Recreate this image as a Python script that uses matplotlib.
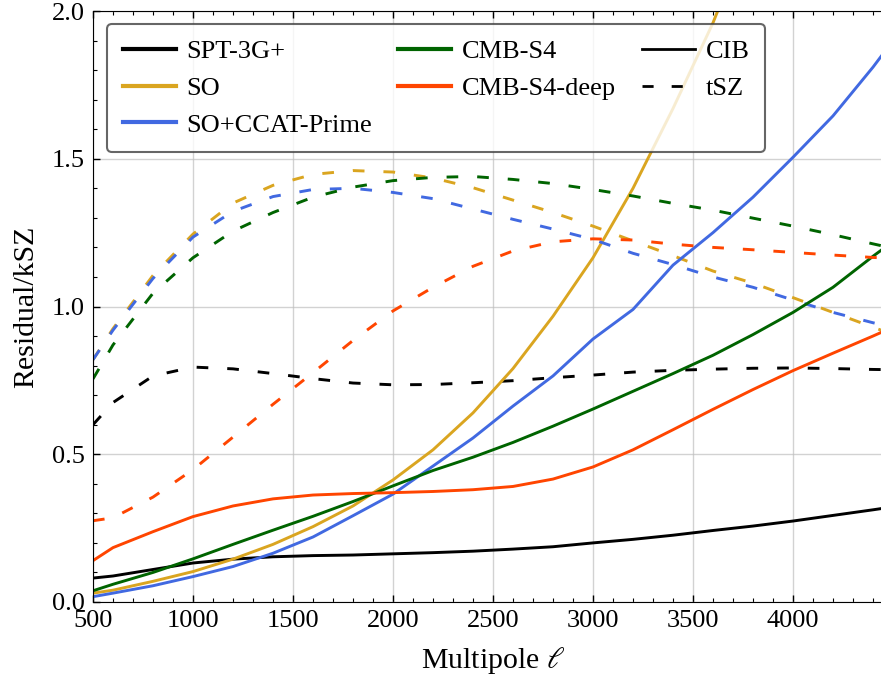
import matplotlib
matplotlib.use("Agg")
import matplotlib.pyplot as plt
from matplotlib.lines import Line2D
from matplotlib.ticker import MultipleLocator

# multipole grid
ell = [500, 600, 800, 1000, 1200, 1400, 1600, 1800, 2000, 2200, 2400,
       2600, 2800, 3000, 3200, 3400, 3600, 3800, 4000, 4200, 4400, 4500]

# CIB residual / kSZ
cib_spt = [0.081, 0.088, 0.110, 0.132, 0.145, 0.153, 0.157, 0.159, 0.163, 0.167, 0.172,
           0.179, 0.187, 0.200, 0.212, 0.226, 0.242, 0.257, 0.274, 0.293, 0.312, 0.322]
cib_so = [0.030, 0.040, 0.070, 0.103, 0.145, 0.195, 0.255, 0.325, 0.413, 0.515, 0.640,
          0.790, 0.967, 1.165, 1.400, 1.670, 1.960, 2.300, 2.700, 3.100, 3.500, 3.700]
cib_ccat = [0.018, 0.030, 0.055, 0.086, 0.120, 0.165, 0.220, 0.292, 0.365, 0.460, 0.555,
            0.663, 0.765, 0.890, 0.990, 1.140, 1.250, 1.370, 1.505, 1.645, 1.810, 1.900]
cib_s4 = [0.038, 0.060, 0.100, 0.146, 0.195, 0.243, 0.290, 0.340, 0.393, 0.445, 0.490,
          0.540, 0.595, 0.653, 0.713, 0.773, 0.835, 0.905, 0.980, 1.065, 1.170, 1.220]
cib_s4deep = [0.140, 0.184, 0.238, 0.289, 0.325, 0.349, 0.362, 0.367, 0.370, 0.374, 0.380,
              0.391, 0.416, 0.457, 0.515, 0.583, 0.652, 0.719, 0.783, 0.842, 0.900, 0.930]

# tSZ residual / kSZ
tsz_spt = [0.600, 0.675, 0.765, 0.795, 0.789, 0.773, 0.756, 0.741, 0.735, 0.736, 0.742,
           0.749, 0.759, 0.768, 0.778, 0.784, 0.788, 0.791, 0.792, 0.790, 0.787, 0.786]
tsz_so = [0.820, 0.925, 1.105, 1.245, 1.350, 1.410, 1.447, 1.460, 1.455, 1.435, 1.402,
          1.360, 1.318, 1.272, 1.222, 1.172, 1.120, 1.079, 1.030, 0.980, 0.930, 0.905]
tsz_ccat = [0.820, 0.920, 1.095, 1.235, 1.322, 1.372, 1.396, 1.400, 1.386, 1.365, 1.330,
            1.295, 1.262, 1.227, 1.180, 1.142, 1.100, 1.065, 1.022, 0.980, 0.945, 0.930]
tsz_s4 = [0.755, 0.870, 1.045, 1.165, 1.255, 1.318, 1.370, 1.404, 1.426, 1.437, 1.440,
          1.430, 1.416, 1.396, 1.374, 1.349, 1.326, 1.299, 1.272, 1.243, 1.212, 1.197]
tsz_s4deep = [0.275, 0.285, 0.355, 0.448, 0.558, 0.669, 0.776, 0.885, 0.985, 1.065, 1.136,
              1.188, 1.219, 1.229, 1.225, 1.211, 1.200, 1.192, 1.183, 1.174, 1.166, 1.163]

experiments = ["SPT-3G+", "SO", "SO+CCAT-Prime", "CMB-S4", "CMB-S4-deep"]
colors = ["black", "goldenrod", "royalblue", "darkgreen", "orangered"]
cib = [cib_spt, cib_so, cib_ccat, cib_s4, cib_s4deep]
tsz = [tsz_spt, tsz_so, tsz_ccat, tsz_s4, tsz_s4deep]

plt.rcParams["font.family"] = ["Liberation Serif", "DejaVu Serif"]
plt.rcParams["mathtext.fontset"] = "stix"
plt.rcParams["font.size"] = 19

fig = plt.figure(figsize=(8.81, 6.77), dpi=100)
# right edge of the axes runs past the figure (reference is cropped there)
ax = fig.add_axes([93 / 881, 75 / 677, 800 / 881, 591 / 677])

dash = (0, (4, 6.5))
for name, c, yc, yt in zip(experiments, colors, cib, tsz):
    ax.plot(ell, yc, color=c, lw=2.1)
    ax.plot(ell, yt, color=c, lw=2.1, linestyle=dash)

ax.set_xlim(500, 4500)
ax.set_ylim(0, 2.0)
ax.set_xticks([500, 1000, 1500, 2000, 2500, 3000, 3500, 4000])
ax.set_yticks([0.0, 0.5, 1.0, 1.5, 2.0])
ax.xaxis.set_minor_locator(MultipleLocator(100))
ax.yaxis.set_minor_locator(MultipleLocator(0.1))
ax.tick_params(which="both", direction="in", top=True, right=True)
ax.tick_params(which="major", length=5, width=1, pad=6)
ax.tick_params(which="minor", length=3, width=0.8)
ax.grid(True, which="major", color="0.75", lw=1, alpha=0.7)
ax.set_xlabel(r"Multipole $\ell$", fontsize=21.5, labelpad=9)
ax.set_ylabel("Residual/kSZ", fontsize=21.5, labelpad=9)

handles = [Line2D([], [], color=c, lw=3) for c in colors]
labels = list(experiments)
handles += [Line2D([], [], color="black", lw=2),
            Line2D([], [], color="black", lw=2, linestyle=dash)]
labels += ["CIB", "tSZ"]
leg = ax.legend(handles, labels, ncol=3, loc="upper left",
                bbox_to_anchor=(0.0175, 0.978), borderaxespad=0,
                borderpad=0.6, handlelength=2.0, handletextpad=0.4,
                columnspacing=1.0, labelspacing=0.5,
                framealpha=0.8, fancybox=True)
leg.get_frame().set_edgecolor("0.25")
leg.get_frame().set_linewidth(1.5)

fig.savefig("out.png", dpi=100)
